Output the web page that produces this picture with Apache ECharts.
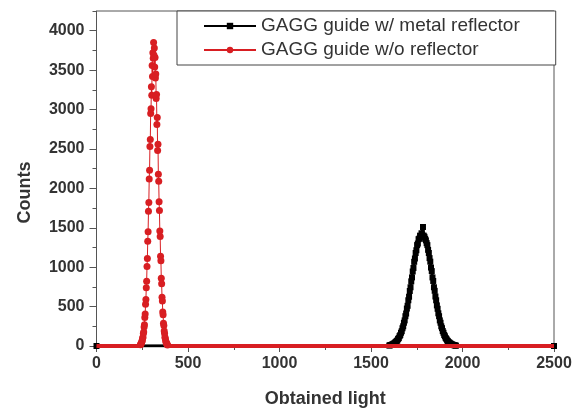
<!DOCTYPE html>
<html>
<head>
<meta charset="utf-8">
<script src="https://cdn.jsdelivr.net/npm/echarts@6/dist/echarts.min.js"></script>
<style>
  html, body { margin: 0; padding: 0; background: #fff; }
  #chart { width: 582px; height: 413px; }
</style>
</head>
<body>
<div id="chart"></div>
<script>
// values
const seriesNames = ['GAGG guide w/ metal reflector', 'GAGG guide w/o reflector']
const xMin = 0
const xMax = 2500
const xTicks = [0, 500, 1000, 1500, 2000, 2500]
const yTicks = [0, 500, 1000, 1500, 2000, 2500, 3000, 3500, 4000]

// w/o reflector peak (red circles)
const redX = [240, 242, 244, 246, 248, 250, 252, 254, 256, 258, 260, 262, 264, 266, 268, 270,
  272, 274, 276, 278, 280, 282, 284, 286, 288, 290, 292, 294, 296, 298, 300, 302, 304, 306,
  308, 310, 312, 314, 316, 318, 320, 322, 324, 326, 328, 330, 332, 334, 336, 338, 340, 342,
  344, 346, 348, 350, 352, 354, 356, 358, 360, 362, 364, 366, 368, 370, 372, 374, 376, 378,
  380, 382, 384, 386, 388]
const redY = [15, 22, 35, 38, 60, 66, 98, 110, 160, 178, 240, 270, 360, 405, 530, 590,
  740, 820, 1010, 1110, 1330, 1450, 1710, 1820, 2120, 2230, 2530, 2620, 2950, 3010, 3290, 3180, 3560, 3420,
  3720, 3650, 3850, 3690, 3780, 3540, 3660, 3400, 3450, 3140, 3190, 2810, 2900, 2480, 2560, 2180, 2090, 1830,
  1720, 1460, 1390, 1140, 1080, 860, 790, 620, 570, 430, 395, 290, 260, 190, 160, 112, 96, 68,
  52, 38, 28, 20, 14]

// metal reflector peak (black squares)
const blackX = [1600, 1604, 1608, 1612, 1616, 1620, 1624, 1628, 1632, 1636, 1640, 1644, 1648, 1652,
  1656, 1660, 1664, 1668, 1672, 1676, 1680, 1684, 1688, 1692, 1696, 1700, 1704, 1708, 1712, 1716,
  1720, 1724, 1728, 1732, 1736, 1740, 1744, 1748, 1752, 1756, 1760, 1764, 1768, 1772, 1776, 1780,
  1784, 1788, 1792, 1796, 1800, 1804, 1808, 1812, 1816, 1820, 1824, 1828, 1832, 1836, 1840, 1844,
  1848, 1852, 1856, 1860, 1864, 1868, 1872, 1876, 1880, 1884, 1888, 1892, 1896, 1900, 1904, 1908,
  1912, 1916, 1920, 1924, 1928, 1932, 1936, 1940, 1944, 1948, 1952, 1956, 1960, 1964]
const blackY = [6, 9, 13, 14, 20, 22, 30, 33, 44, 50, 63, 70, 90, 100,
  125, 138, 168, 188, 225, 250, 295, 325, 378, 412, 475, 510, 580, 625, 698, 745,
  820, 870, 945, 990, 1068, 1110, 1180, 1215, 1280, 1300, 1355, 1362, 1400, 1390, 1430, 1405,
  1510, 1400, 1385, 1360, 1340, 1305, 1280, 1220, 1180, 1115, 1070, 995, 950, 870, 825, 745,
  700, 628, 580, 515, 472, 415, 378, 325, 295, 250, 226, 190, 168, 140, 123, 102,
  88, 72, 62, 50, 43, 34, 29, 22, 19, 14, 12, 9, 7, 4]

const font = 'Liberation Sans, Arial, sans-serif'
const red = '#d81e22'

const blackData = [[xMin, 0]].concat(blackX.map((x, i) => [x, blackY[i]]), [[xMax, 0]])
const redData = redX.map((x, i) => [x, redY[i]])

const chart = echarts.init(document.getElementById('chart'))
chart.setOption({
  animation: false,
  grid: {
    left: 96.5,
    right: 28,
    top: 11,
    bottom: 66,
    show: true,
    borderColor: '#555',
    borderWidth: 1
  },
  legend: {
    orient: 'vertical',
    left: 177,
    top: 11,
    padding: [5, 36, 5, 26],
    itemWidth: 52,
    itemHeight: 8,
    itemGap: 4,
    borderColor: '#444',
    borderWidth: 1,
    backgroundColor: '#fff',
    textStyle: { fontFamily: font, fontSize: 19, color: '#333', lineHeight: 20 },
    data: seriesNames
  },
  xAxis: {
    type: 'value',
    min: xMin,
    max: xMax,
    interval: xTicks[1] - xTicks[0],
    name: 'Obtained light',
    nameLocation: 'middle',
    nameGap: 44,
    nameTextStyle: { fontFamily: font, fontSize: 18, fontWeight: 'bold', color: '#333' },
    axisLine: { lineStyle: { color: '#555' } },
    axisTick: { length: 6, lineStyle: { color: '#555' } },
    minorTick: { show: true, splitNumber: 2, length: 4, lineStyle: { color: '#555' } },
    splitLine: { show: false },
    axisLabel: {
      margin: 10, fontFamily: font, fontSize: 16, fontWeight: 'bold', color: '#333',
      formatter: v => String(v)
    }
  },
  yAxis: [
    {
      type: 'value',
      position: 'left',
      min: 0,
      max: 4250,
      interval: yTicks[1] - yTicks[0],
      name: 'Counts',
      nameLocation: 'middle',
      nameGap: 62,
      nameTextStyle: { fontFamily: font, fontSize: 18, fontWeight: 'bold', color: '#333', padding: [0, 28, 0, 0] },
      axisLine: { show: true, lineStyle: { color: '#555' } },
      axisTick: { show: true, length: 7, lineStyle: { color: '#555' } },
      splitLine: { show: false },
      axisLabel: {
        margin: 12,
        showMaxLabel: false,
        fontFamily: font,
        fontSize: 16,
        fontWeight: 'bold',
        color: '#333',
        formatter: v => (yTicks.indexOf(v) >= 0 ? String(v) : '')
      }
    },
    {
      // minor ticks every 250
      type: 'value',
      position: 'left',
      offset: 0,
      min: 0,
      max: 4250,
      interval: 250,
      axisLine: { show: false },
      axisTick: { show: true, length: 4, lineStyle: { color: '#555' } },
      axisLabel: { show: false },
      splitLine: { show: false }
    }
  ],
  series: [
    {
      name: seriesNames[0],
      type: 'line',
      yAxisIndex: 0,
      data: blackData,
      showAllSymbol: true,
      symbol: 'rect',
      symbolSize: 6,
      itemStyle: { color: '#000' },
      lineStyle: { color: '#000', width: 3 }
    },
    {
      name: seriesNames[1],
      type: 'line',
      yAxisIndex: 0,
      data: redData,
      showAllSymbol: true,
      symbol: 'circle',
      symbolSize: 7,
      itemStyle: { color: red },
      lineStyle: { color: red, width: 1 },
      markLine: {
        silent: true,
        symbol: 'none',
        label: { show: false },
        lineStyle: { color: red, width: 4, type: 'solid' },
        data: [
          [{ coord: [xMin, 0] }, { coord: [redX[0], 0] }],
          [{ coord: [redX[redX.length - 1], 0] }, { coord: [xMax, 0] }]
        ]
      }
    }
  ]
})
</script>
</body>
</html>
